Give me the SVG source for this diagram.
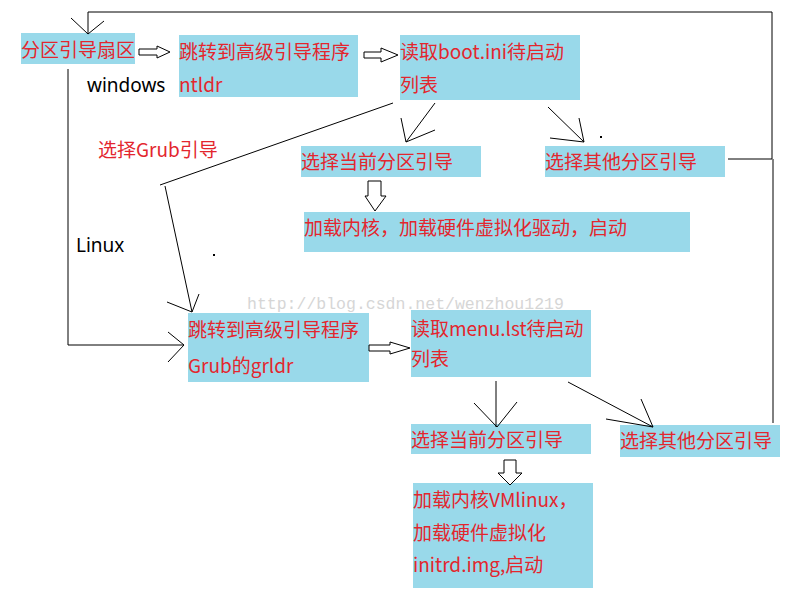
<svg xmlns="http://www.w3.org/2000/svg" width="796" height="597" viewBox="0 0 796 597">
<style>
.box{fill:#99d9ea}
.t{font-family:"Noto Sans CJK SC","Noto Sans",sans-serif;font-size:19px;fill:#e3262e}
.k{font-family:"Noto Sans","Noto Sans CJK SC",sans-serif;font-size:19px;fill:#000}
.ln{stroke:#000;stroke-width:1;fill:none}
.blk{stroke:#000;stroke-width:1;fill:#fff}
.wm{font-family:"Liberation Mono",monospace;font-size:16.5px;fill:#d6d6d6}
</style>
<rect width="796" height="597" fill="#fff"/>
<text class="wm" x="247" y="309">http://blog.csdn.net/wenzhou1219</text>
<g id="n1"><rect class="box" x="21" y="33" width="114" height="31"/><text class="t" x="21" y="57">分区引导扇区</text></g>
<g id="n2"><rect class="box" x="179" y="35" width="179" height="62"/><text class="t" x="179" y="59">跳转到高级引导程序</text><text class="t" x="179" y="92">ntldr</text></g>
<g id="n3"><rect class="box" x="400" y="35" width="180" height="65"/><text class="t" x="400" y="59">读取boot.ini待启动</text><text class="t" x="400" y="92">列表</text></g>
<g id="n4"><rect class="box" x="301" y="146" width="180" height="31"/><text class="t" x="301" y="169">选择当前分区引导</text></g>
<g id="n5"><rect class="box" x="545" y="146" width="180" height="31"/><text class="t" x="545" y="169">选择其他分区引导</text></g>
<g id="n6"><rect class="box" x="304" y="212" width="386" height="40"/><text class="t" x="304" y="235">加载内核，加载硬件虚拟化驱动，启动</text></g>
<g id="n7"><rect class="box" x="188" y="313" width="181" height="69"/><text class="t" x="188" y="337">跳转到高级引导程序</text><text class="t" x="188" y="373">Grub的grldr</text></g>
<g id="n8"><rect class="box" x="411" y="310" width="180" height="67"/><text class="t" x="411" y="336">读取menu.lst待启动</text><text class="t" x="411" y="366">列表</text></g>
<g id="n9"><rect class="box" x="411" y="424" width="180" height="30"/><text class="t" x="411" y="447">选择当前分区引导</text></g>
<g id="n10"><rect class="box" x="620" y="425" width="160" height="32"/><text class="t" x="620" y="448">选择其他分区引导</text></g>
<g id="n11"><rect class="box" x="413" y="483" width="180" height="105"/><text class="t" x="413" y="507">加载内核VMlinux，</text><text class="t" x="413" y="540">加载硬件虚拟化</text><text class="t" x="413" y="572">initrd.img,启动</text></g>
<g id="labels">
<text class="k" x="87" y="92">windows</text>
<text class="k" x="76" y="252">Linux</text>
<text class="t" x="98" y="157">选择Grub引导</text>
</g>
<g id="connectors">
<polygon class="blk" points="139,49 157,49 157,46 170,52 157,58 157,55 139,55"/>
<polygon class="blk" points="364,52 381,52 381,48 398,55 381,62 381,58 364,58"/>
<polygon class="blk" points="369,345 390,345 390,342 410,348 390,354 390,351 369,351"/>
<polygon class="blk" points="368,181 381,181 381,196 386,196 375,211 365,196 368,196"/>
<polygon class="blk" points="504,460 516,460 516,473 522,473 510,485 498,473 504,473"/>
<path class="ln" d="M728,159 H772 V12 H88 V34 M71,18 L88,34 L104,21"/>
<path class="ln" d="M773,159 V423"/>
<path class="ln" d="M435,103 L406,142 M401,118 L406,142 L435,130"/>
<path class="ln" d="M548,107 L584,142 M579,118 L584,142 L550,138"/>
<path class="ln" d="M393,103 L160,185 M165,186 L192,312 M167,302 L192,312 L199,294"/>
<path class="ln" d="M68,69 V345 H184 M168,332 L184,345 L168,362"/>
<path class="ln" d="M496,381 V427 M474,403 L497,427 L517,402"/>
<path class="ln" d="M568,382 L653,427 M641,399 L653,427 L606,419"/>
<rect x="600" y="136" width="2" height="2" fill="#000"/>
<rect x="213" y="254" width="2" height="2" fill="#000"/>
</g>
</svg>
